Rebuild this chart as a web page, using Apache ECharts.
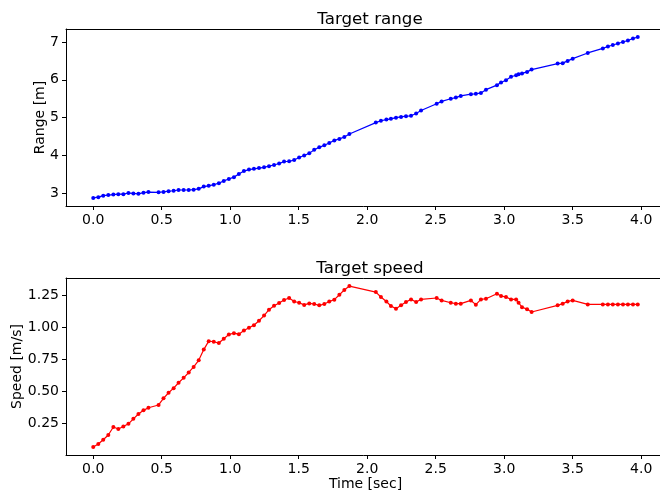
<!DOCTYPE html>
<html>
<head>
<meta charset="utf-8">
<script src="https://cdn.jsdelivr.net/npm/echarts@6/dist/echarts.min.js"></script>
<style>
  html, body { margin: 0; padding: 0; background: #fff; overflow: hidden; }
  #main { width: 660px; height: 495px; }
</style>
</head>
<body>
<div id="main"></div>
<script>
/* ===== data ===== */
const times = [
  0, 0.037, 0.073, 0.11, 0.147, 0.183, 0.22, 0.257, 0.293, 0.33, 0.367, 0.403,
  0.477, 0.513, 0.55, 0.587, 0.623, 0.66, 0.697, 0.733, 0.77, 0.807, 0.843, 0.88, 0.917, 0.953,
  0.99, 1.027, 1.063, 1.1, 1.137, 1.173, 1.21, 1.247, 1.283, 1.32, 1.357, 1.393, 1.43, 1.467,
  1.503, 1.54, 1.577, 1.613, 1.65, 1.687, 1.723, 1.76, 1.797, 1.833, 1.87,
  2.063, 2.1, 2.14, 2.173, 2.21, 2.247, 2.283, 2.32, 2.357, 2.393,
  2.507, 2.543, 2.61, 2.647, 2.683, 2.757, 2.793, 2.83, 2.867, 2.947, 2.977, 3.013, 3.05, 3.087,
  3.105, 3.13, 3.167, 3.2,
  3.39, 3.427, 3.463, 3.5, 3.61, 3.72, 3.757, 3.793, 3.83, 3.867, 3.903, 3.94, 3.975
];

const rangeVals = [
  2.88, 2.90, 2.94, 2.955, 2.97, 2.98, 2.98, 3.01, 3.0, 2.99, 3.02, 3.035,
  3.03, 3.04, 3.06, 3.07, 3.09, 3.09, 3.09, 3.10, 3.12, 3.18, 3.20, 3.23, 3.27, 3.33,
  3.38, 3.43, 3.51, 3.59, 3.63, 3.65, 3.67, 3.69, 3.72, 3.75, 3.79, 3.84, 3.85, 3.88,
  3.95, 4.0, 4.06, 4.15, 4.22, 4.27, 4.33, 4.40, 4.44, 4.49, 4.57,
  4.87, 4.92, 4.95, 4.97, 5.0, 5.02, 5.04, 5.05, 5.11, 5.19,
  5.37, 5.43, 5.50, 5.53, 5.575, 5.62, 5.63, 5.655, 5.74, 5.86, 5.93, 5.99, 6.08, 6.12,
  6.15, 6.17, 6.21, 6.27,
  6.43, 6.44, 6.50, 6.56, 6.71, 6.83, 6.88, 6.92, 6.96, 7.0, 7.04, 7.09, 7.13
];

const speedVals = [
  0.067, 0.09, 0.123, 0.16, 0.222, 0.207, 0.226, 0.247, 0.286, 0.324, 0.352, 0.372,
  0.394, 0.446, 0.489, 0.525, 0.567, 0.605, 0.647, 0.69, 0.742, 0.825, 0.891, 0.886, 0.876, 0.91,
  0.943, 0.953, 0.945, 0.974, 0.995, 1.015, 1.05, 1.09, 1.136, 1.167, 1.188, 1.211, 1.227, 1.20,
  1.19, 1.173, 1.185, 1.18, 1.17, 1.18, 1.20, 1.214, 1.252, 1.29, 1.32,
  1.273, 1.235, 1.20, 1.165, 1.144, 1.17, 1.196, 1.216, 1.196, 1.216,
  1.227, 1.208, 1.19, 1.183, 1.183, 1.208, 1.175, 1.216, 1.221, 1.26, 1.242, 1.235, 1.216, 1.216,
  1.19, 1.155, 1.14, 1.118,
  1.17, 1.183, 1.20, 1.208, 1.177, 1.177, 1.177, 1.177, 1.177, 1.177, 1.177, 1.177, 1.177
];

const timeTicks  = [0, 0.5, 1, 1.5, 2, 2.5, 3, 3.5, 4];
const rangeTicks = [3, 4, 5, 6, 7];
const speedTicks = [0.25, 0.5, 0.75, 1.0, 1.25];

/* ===== helpers ===== */
const FONT = 'DejaVu Sans';
const pairs = (xs, ys) => xs.map((x, i) => [x, ys[i]]);
// matplotlib style 5% margins
const pad = (arr) => {
  const lo = Math.min(...arr), hi = Math.max(...arr), m = (hi - lo) * 0.05;
  return [lo - m, hi + m];
};
const tExt = pad(times);
const rExt = pad(rangeVals);
const sExt = pad(speedVals);

const xAxisBase = (gi, extra) => Object.assign({
  type: 'value',
  gridIndex: gi,
  min: tExt[0],
  max: tExt[1],
  splitLine: { show: false },
  axisLine: { show: true, onZero: false, lineStyle: { color: '#000', width: 1 } },
  axisTick: { show: true, length: 4, lineStyle: { color: '#000' }, customValues: timeTicks },
  axisLabel: {
    color: '#000', fontSize: 14, fontFamily: FONT, margin: 7,
    customValues: timeTicks,
    formatter: v => v.toFixed(1)
  }
}, extra || {});

// top spine only (no ticks, no labels)
const topSpine = (gi) => ({
  type: 'value',
  gridIndex: gi,
  position: 'top',
  min: tExt[0],
  max: tExt[1],
  splitLine: { show: false },
  axisLine: { show: true, onZero: false, lineStyle: { color: '#000', width: 1 } },
  axisTick: { show: false },
  axisLabel: { show: false }
});

const yAxisBase = (gi, ext, ticks, fmt, name, gap) => ({
  type: 'value',
  gridIndex: gi,
  min: ext[0],
  max: ext[1],
  name: name,
  nameLocation: 'middle',
  nameGap: gap,
  nameMoveOverlap: false,
  nameTextStyle: { color: '#000', fontSize: 14, fontFamily: FONT },
  splitLine: { show: false },
  axisLine: { show: true, onZero: false, lineStyle: { color: '#000', width: 1 } },
  axisTick: { show: true, length: 4, lineStyle: { color: '#000' }, customValues: ticks },
  axisLabel: {
    color: '#000', fontSize: 14, fontFamily: FONT, margin: 7,
    customValues: ticks,
    formatter: fmt
  }
});

/* ===== chart ===== */
const chart = echarts.init(document.getElementById('main'), null, { renderer: 'canvas' });

// the reference's right spine falls just outside the picture
const gridCommon = {
  left: 66, width: 599, height: 177,
  containLabel: false, outerBoundsMode: 'none',
  show: false
};

chart.setOption({
  backgroundColor: '#fff',
  animation: false,
  title: [
    { text: 'Target range', left: 365, top: 6, textAlign: 'center',
      textStyle: { fontSize: 16.7, fontWeight: 'normal', color: '#000', fontFamily: FONT } },
    { text: 'Target speed', left: 365, top: 255, textAlign: 'center',
      textStyle: { fontSize: 16.7, fontWeight: 'normal', color: '#000', fontFamily: FONT } }
  ],
  grid: [
    Object.assign({ top: 29 }, gridCommon),
    Object.assign({ top: 278 }, gridCommon)
  ],
  xAxis: [
    xAxisBase(0),
    xAxisBase(1, {
      name: 'Time [sec]',
      nameLocation: 'middle',
      nameGap: 22,
      nameMoveOverlap: false,
      nameTextStyle: { color: '#000', fontSize: 14, fontFamily: FONT }
    }),
    topSpine(0),
    topSpine(1)
  ],
  yAxis: [
    yAxisBase(0, rExt, rangeTicks, v => String(v), 'Range [m]', 19),
    yAxisBase(1, sExt, speedTicks, v => v.toFixed(2), 'Speed [m/s]', 42)
  ],
  series: [
    {
      type: 'line',
      xAxisIndex: 0, yAxisIndex: 0,
      data: pairs(times, rangeVals),
      symbol: 'circle',
      symbolSize: 4,
      color: '#0000ff',
      lineStyle: { width: 1.2, color: '#0000ff' },
      itemStyle: { color: '#0000ff' }
    },
    {
      type: 'line',
      xAxisIndex: 1, yAxisIndex: 1,
      data: pairs(times, speedVals),
      symbol: 'circle',
      symbolSize: 4,
      color: '#ff0000',
      lineStyle: { width: 1.2, color: '#ff0000' },
      itemStyle: { color: '#ff0000' }
    }
  ]
});
</script>
</body>
</html>
